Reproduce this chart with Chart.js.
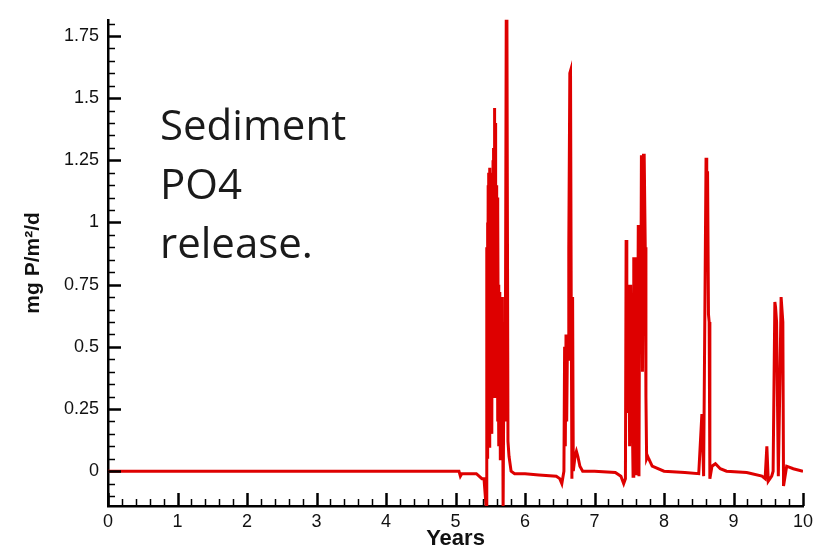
<!DOCTYPE html>
<html>
<head>
<meta charset="utf-8">
<script src="https://cdn.jsdelivr.net/npm/chart.js@4.4.1/dist/chart.umd.min.js"></script>
<style>
  html, body { margin: 0; padding: 0; background: #fff; }
  #wrap { width: 823px; height: 549px; }
</style>
</head>
<body>
<div id="wrap"><canvas id="releaseChart"></canvas></div>
<script>
"use strict";

/// DATA
const years = [
    0, 5.0, 5.05, 5.07, 5.09, 5.3, 5.38, 5.41,
    5.445, 5.450, 5.455, 5.460, 5.465, 5.470, 5.475, 5.480, 5.485, 5.490,
    5.495, 5.500, 5.505, 5.510, 5.515, 5.520, 5.525, 5.530, 5.535, 5.540,
    5.545, 5.550, 5.555, 5.560, 5.565, 5.570, 5.575, 5.580, 5.585, 5.590,
    5.595, 5.600, 5.605, 5.610, 5.615, 5.620, 5.625, 5.630, 5.635, 5.640,
    5.645, 5.650, 5.655, 5.660, 5.665, 5.670, 5.675, 5.685, 5.70, 5.715,
    5.73, 5.74, 5.755, 5.77, 5.80, 5.85, 6.0, 6.2, 6.45,
    6.50, 6.53, 6.56, 6.57, 6.58, 6.59, 6.60, 6.61, 6.62, 6.63, 6.645,
    6.655, 6.665, 6.675, 6.685, 6.695, 6.72, 6.74, 6.76, 6.79, 6.83,
    7.0, 7.3, 7.38, 7.42, 7.445, 7.455, 7.465, 7.475, 7.485, 7.495, 7.505, 7.52,
    7.54, 7.555, 7.565, 7.575, 7.585, 7.60, 7.61, 7.62, 7.63, 7.64, 7.65, 7.665,
    7.675, 7.69, 7.705, 7.715, 7.73, 7.74, 7.75, 7.765, 7.78, 7.83, 8.0,
    8.3, 8.50, 8.545, 8.57, 8.605, 8.615, 8.627, 8.64, 8.65, 8.66, 8.69, 8.74,
    8.81, 8.9, 9.19, 9.41, 9.455, 9.48, 9.50, 9.55, 9.57, 9.595, 9.605,
    9.62, 9.645, 9.67, 9.685, 9.695, 9.71, 9.72, 9.765, 9.86, 10.0
];
const release = [
    0, 0, 0, -0.02, -0.01, -0.01, -0.03, -0.03,
    -0.16, 0.9, 0.15, 1.0, 0.05, 1.15, 0.2, 1.2, 0.1, 1.22,
    0.35, 1.2, 0.2, 1.18, 0.5, 1.2, 0.15, 1.12, 0.4, 1.25,
    0.6, 1.3, 0.3, 1.46, 0.9, 1.4, 0.5, 1.15, 0.3, 1.15,
    0.6, 1.1, 0.2, 1.05, 0.5, 0.75, 0.1, 0.72, 0.3, 0.7,
    0.05, 0.7, 0.2, 0.68, 0.4, 0.7, 0.6, -0.16, 0.6, 0.2,
    1.82, 1.8, 0.12, 0.06, 0.0, -0.01, -0.01, -0.015, -0.02,
    -0.03, -0.05, 0.0, 0.5, 0.1, 0.55, 0.2, 0.5, 0.45, 0.9, 1.6,
    1.61, 0.7, -0.03, 0.7, 0.0, 0.06, 0.08, 0.06, 0.02, 0.0,
    0.0, -0.005, -0.02, -0.05, -0.03, 0.93, 0.3, 0.75, 0.24, 0.75, 0.1, 0.75,
    0.3, -0.02, 0.86, 0.2, 0.86, -0.01, 0.86, 0.4, 0.99, -0.02, 0.92, 0.5,
    1.27, 0.4, 1.27, 1.27, 0.9, 0.3, 0.05, 0.06, 0.05, 0.02, 0.0,
    -0.005, -0.01, 0.23, -0.02, 1.26, 1.2, 1.2, 0.63, 0.6, -0.03, 0.02, 0.03,
    0.01, 0.0, -0.005, -0.02, -0.03, 0.10, -0.04, -0.02, 0.0, 0.68, 0.66,
    0.6, -0.02, 0.4, 0.70, 0.70, 0.6, -0.06, 0.02, 0.01, 0.0
];

const xTicks = [0, 1, 2, 3, 4, 5, 6, 7, 8, 9, 10];
const yTicks = [0, 0.25, 0.5, 0.75, 1, 1.25, 1.5, 1.75];
const yTickLabels = ['0', '0.25', '0.5', '0.75', '1', '1.25', '1.5', '1.75'];
const noteLines = ['Sediment', 'PO4', 'release.'];

const xMinorStep = 0.2;
const yMinorStep = 0.05;

const points = years.map((x, i) => ({ x: x, y: release[i] }));

// ticks drawn inside the frame, like the original plot
const innerTicks = {
    id: 'innerTicks',
    afterDraw(chart) {
        const ctx = chart.ctx;
        const xs = chart.scales.x;
        const ys = chart.scales.y;
        const area = chart.chartArea;
        ctx.save();
        ctx.strokeStyle = '#000';
        for (let v = xs.min; v <= xs.max + 1e-9; v += xMinorStep) {
            const major = Math.abs(v - Math.round(v)) < 1e-6;
            const px = Math.round(xs.getPixelForValue(v)) + 0.5;
            ctx.lineWidth = major ? 2.5 : 1.5;
            ctx.beginPath();
            ctx.moveTo(px, area.bottom);
            ctx.lineTo(px, area.bottom - (major ? 13 : 7));
            ctx.stroke();
        }
        const start = Math.ceil(ys.min / yMinorStep) * yMinorStep;
        for (let v = start; v <= ys.max + 1e-9; v += yMinorStep) {
            const major = Math.abs(v / 0.25 - Math.round(v / 0.25)) < 1e-6;
            const py = Math.round(ys.getPixelForValue(v)) + 0.5;
            ctx.lineWidth = major ? 2.5 : 1.5;
            ctx.beginPath();
            ctx.moveTo(area.left, py);
            ctx.lineTo(area.left + (major ? 13 : 7), py);
            ctx.stroke();
        }
        ctx.restore();
    }
};

// the slide note written over the plot
const slideNote = {
    id: 'slideNote',
    afterDraw(chart) {
        const ctx = chart.ctx;
        ctx.save();
        ctx.fillStyle = '#1a1a1a';
        ctx.font = '42px "Open Sans"';
        ctx.textBaseline = 'alphabetic';
        noteLines.forEach((line, i) => {
            ctx.fillText(line, 160, 140 + i * 59);
        });
        ctx.restore();
    }
};

const config = {
    type: 'line',
    data: {
        datasets: [
            {
                label: 'PO4 release',
                data: points,
                borderColor: 'rgb(222, 0, 0)',
                borderWidth: 3,
                pointRadius: 0,
                tension: 0,
                fill: false
            }
        ]
    },
    options: {
        responsive: true,
        maintainAspectRatio: false,
        animation: false,
        layout: { padding: { top: 10, right: 20, left: 0, bottom: 0 } },
        plugins: {
            legend: { display: false },
            tooltip: { enabled: false }
        },
        scales: {
            x: {
                type: 'linear',
                min: 0,
                max: 10,
                afterBuildTicks: (scale) => { scale.ticks = xTicks.map(v => ({ value: v })); },
                afterFit: (scale) => { scale.height = 43; },
                grid: { display: false, drawTicks: false },
                border: { display: true, color: '#000', width: 2.5 },
                ticks: {
                    padding: 5,
                    color: '#111',
                    font: { family: 'Liberation Sans', size: 18 },
                    maxRotation: 0,
                    callback: (v) => String(v)
                },
                title: {
                    display: true,
                    text: 'Years',
                    color: '#111',
                    font: { family: 'Liberation Sans', size: 22, weight: 'bold', lineHeight: 0.9 },
                    padding: { top: 0, bottom: 0 }
                }
            },
            y: {
                type: 'linear',
                min: -0.14,
                max: 1.815,
                afterBuildTicks: (scale) => { scale.ticks = yTicks.map(v => ({ value: v })); },
                afterFit: (scale) => { scale.width = 108; },
                grid: { display: false, drawTicks: false },
                border: { display: true, color: '#000', width: 2.5 },
                ticks: {
                    padding: 9,
                    color: '#111',
                    font: { family: 'Liberation Sans', size: 18 },
                    callback: (v) => {
                        const i = yTicks.indexOf(v);
                        return i >= 0 ? yTickLabels[i] : '';
                    }
                },
                title: {
                    display: true,
                    text: 'mg P/m²/d',
                    color: '#111',
                    font: { family: 'Liberation Sans', size: 21, weight: 'bold', lineHeight: 1.1 },
                    padding: { top: 22, bottom: 0 }
                }
            }
        }
    },
    plugins: [innerTicks, slideNote]
};

var releaseChart = new Chart(document.getElementById('releaseChart'), config);
</script>
</body>
</html>
